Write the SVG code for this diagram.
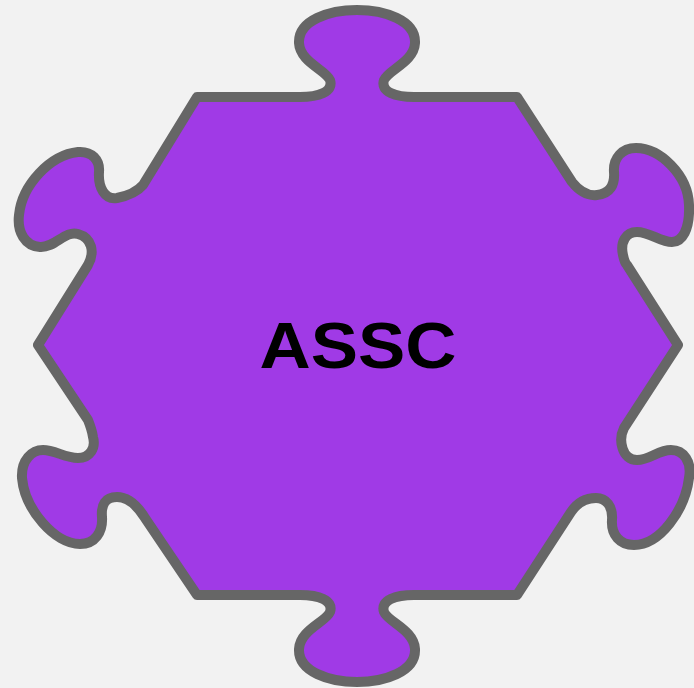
<svg xmlns="http://www.w3.org/2000/svg" width="694" height="688" viewBox="0 0 694 688">
  <style>
    .piece { fill: #a03ae6; stroke: #666666; stroke-width: 10; stroke-linejoin: round; }
    .label { font-family: "Liberation Sans", Arial, sans-serif; font-weight: bold; font-size: 64px; fill: #000000; }
  </style>
  <rect x="0" y="0" width="694" height="688" fill="#f2f2f2"/>
  <g id="node-assc">
    <path class="piece" d="M 197,97
      L 300,97 C 318,97 334,92 330,80 C 326,70 300,62 299,43 C 298,20 330,10 357,10 C 384,10 416,20 415,43 C 414,62 388,70 384,80 C 380,92 396,97 414,97
      L 517,97
      L 572,182 C 580,192 588,196 597,195 C 610,194 615,185 614,172 C 613,158 622,148 636,148 C 660,148 688,175 689,205 C 690,230 682,242 672,242 C 660,242 650,232 637,232 C 626,232 620,242 623,255 C 624,260 625,263 627,265
      L 678,345
      L 624,428 C 618,440 622,460 637,460 C 650,460 658,450 671,450 C 684,450 692,462 689,478 C 685,510 660,545 634,545 C 620,545 611,535 612,520 C 613,506 606,498 596,498 C 585,498 577,503 571,512
      L 517,595
      L 414,595 C 396,595 380,600 384,612 C 388,622 414,630 415,649 C 416,672 384,682 357,682 C 330,682 298,672 299,649 C 300,630 326,622 330,612 C 334,600 318,595 300,595
      L 197,595
      L 145,518 C 137,505 127,497 117,497 C 105,497 101,505 102,517 C 103,532 95,544 80,544 C 55,544 25,510 22,478 C 21,460 32,450 43,450 C 55,450 65,458 78,458 C 90,458 96,448 93,437 C 92,430 90,425 88,420
      L 38,345
      L 88,265 C 95,252 92,238 78,234 C 65,230 55,248 40,247 C 25,246 17,232 19,215 C 22,185 50,155 78,152 C 92,151 100,160 99,172 C 98,188 105,200 117,198 C 127,196 137,192 143,185
      Z"/>
    <text class="label" x="358" y="368" text-anchor="middle" textLength="197" lengthAdjust="spacingAndGlyphs">ASSC</text>
  </g>
  <g id="connectors"></g>
</svg>
